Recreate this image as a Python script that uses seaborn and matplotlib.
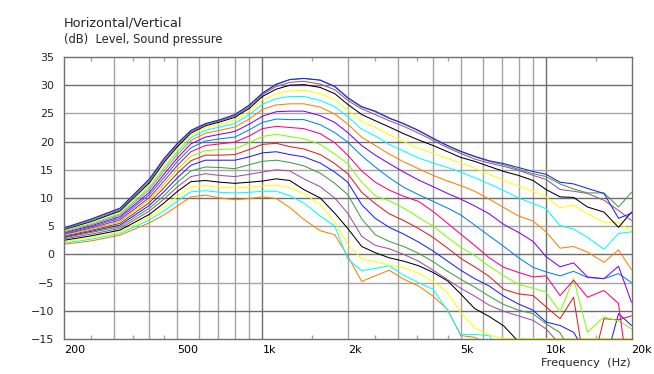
import matplotlib
matplotlib.use("Agg")
import matplotlib.pyplot as plt
import seaborn as sns
import pandas as pd

# frequency grid (Hz)
freq = [200, 250, 315, 400, 450, 500, 560, 630, 710, 800, 900, 1000, 1120, 1250, 1400, 1600, 1800,
        2000, 2240, 2500, 2800, 3150, 3550, 4000, 4500, 5000, 5600, 6300, 7100, 8000, 9000, 10000,
        11200, 12500, 14000, 16000, 18000, 20000]

# sound pressure level (dB) per off-axis angle
deg_00 = [4.7, 6.3, 8.2, 13.4, 17.0, 19.6, 22.0, 23.2, 23.9, 24.8, 26.5, 28.6, 30.2, 31.0, 31.2, 30.9, 29.8,
          27.8, 26.2, 25.4, 24.2, 23.2, 22.0, 20.6, 19.3, 18.3, 17.4, 16.6, 16.1, 15.4, 14.7, 14.2, 12.8, 12.5, 11.7, 10.8, 6.4, 7.3]
deg_05 = [4.6, 6.2, 8.1, 13.2, 16.9, 19.5, 21.9, 23.1, 23.8, 24.7, 26.4, 28.5, 30.1, 31.0, 31.2, 30.9, 29.7,
          27.7, 26.1, 25.3, 24.1, 23.1, 21.9, 20.5, 19.2, 18.2, 17.3, 16.5, 15.9, 15.1, 14.3, 13.8, 12.5, 11.6, 10.9, 10.9, 8.4, 11.0]
deg_10 = [4.5, 6.0, 7.9, 13.0, 16.6, 19.3, 21.7, 23.0, 23.7, 24.5, 26.2, 28.3, 29.8, 30.5, 30.7, 30.2, 29.2,
          27.3, 25.8, 24.8, 23.7, 22.7, 21.5, 20.2, 18.9, 17.9, 16.9, 16.2, 15.6, 14.9, 14.0, 13.3, 11.5, 11.2, 10.8, 9.6, 7.8, 6.0]
deg_15 = [4.4, 5.85, 7.7, 12.7, 16.3, 19.0, 21.5, 22.8, 23.5, 24.3, 25.9, 28.0, 29.3, 30.0, 30.1, 29.6, 28.5,
          26.6, 24.8, 23.7, 22.6, 21.4, 20.3, 19.3, 18.2, 17.2, 16.5, 15.6, 14.7, 14.0, 13.1, 11.5, 10.2, 10.1, 8.4, 7.5, 4.8, 7.5]
deg_20 = [4.3, 5.7, 7.5, 12.3, 15.8, 18.6, 21.1, 22.5, 23.1, 23.8, 25.4, 27.4, 28.5, 29.0, 29.1, 28.5, 27.4,
          25.6, 23.6, 22.5, 21.2, 20.0, 18.8, 17.9, 17.0, 16.2, 15.3, 14.2, 13.1, 12.1, 11.2, 10.2, 8.3, 8.7, 7.2, 5.7, 5.6, 4.1]
deg_25 = [4.15, 5.5, 7.2, 11.9, 15.3, 18.1, 20.7, 22.0, 22.6, 23.2, 24.8, 26.6, 27.6, 28.0, 28.0, 27.3, 26.2,
          24.4, 22.2, 21.0, 19.5, 18.3, 17.1, 16.2, 15.4, 14.6, 13.6, 12.5, 11.3, 10.0, 9.0, 8.1, 5.1, 4.5, 3.0, 0.9, 3.7, 4.0]
deg_30 = [4.0, 5.3, 7.0, 11.5, 14.8, 17.6, 20.2, 21.5, 22.0, 22.6, 24.0, 25.7, 26.5, 26.7, 26.7, 26.1, 24.9,
          23.1, 20.8, 19.3, 17.8, 16.4, 15.2, 14.0, 13.0, 12.2, 11.2, 9.8, 8.3, 6.8, 5.9, 4.0, 1.1, 1.4, 0.4, -1.4, 0.8, -2.7]
deg_35 = [3.85, 5.1, 6.7, 11.0, 14.2, 17.0, 19.6, 20.8, 21.3, 21.8, 23.1, 24.5, 25.3, 25.4, 25.4, 24.6, 23.4,
          21.6, 19.3, 17.6, 16.1, 14.6, 13.2, 12.0, 10.8, 9.8, 8.6, 7.2, 5.3, 3.9, 2.3, -0.4, -2.2, -1.5, -4.0, -4.3, -2.1, -8.5]
deg_40 = [3.7, 4.9, 6.4, 10.6, 13.6, 16.4, 18.9, 20.1, 20.5, 20.8, 22.1, 23.4, 24.0, 23.9, 23.9, 23.0, 21.6,
          19.9, 17.5, 15.5, 13.6, 11.9, 10.6, 9.4, 8.2, 7.0, 5.2, 3.3, 1.4, -0.6, -2.3, -3.1, -3.8, -3.0, -4.1, -4.3, -3.4, -5.0]
deg_45 = [3.55, 4.7, 6.1, 10.1, 13.0, 15.7, 18.2, 19.3, 19.6, 19.9, 21.0, 22.3, 22.7, 22.5, 22.3, 21.4, 19.8,
          17.6, 14.8, 12.8, 11.4, 10.3, 9.4, 7.6, 5.5, 3.6, 1.6, -0.6, -2.3, -3.2, -4.0, -3.8, -7.3, -4.6, -7.6, -6.4, -8.7, -26.0]
deg_50 = [3.4, 4.5, 5.8, 9.7, 12.4, 15.0, 17.4, 18.4, 18.6, 18.7, 19.8, 20.9, 21.3, 20.9, 20.5, 19.5, 17.8,
          16.1, 12.8, 10.4, 9.5, 8.2, 6.6, 5.0, 3.0, 1.3, -0.2, -2.1, -3.8, -5.3, -6.0, -6.7, -10.2, -4.3, -13.8, -11.1, -11.8, -13.2]
deg_55 = [3.25, 4.3, 5.5, 9.2, 11.8, 14.3, 16.6, 17.6, 17.6, 17.7, 18.6, 19.5, 19.7, 19.1, 18.7, 17.7, 16.1,
          14.3, 11.0, 9.0, 7.2, 6.0, 4.6, 3.0, 1.1, -0.7, -2.2, -3.9, -6.2, -7.0, -7.3, -9.3, -11.4, -7.6, -23.0, -11.4, -11.6, -10.9]
deg_60 = [3.1, 4.1, 5.2, 8.7, 11.1, 13.5, 15.8, 16.7, 16.7, 16.7, 17.3, 18.0, 18.2, 17.7, 17.3, 16.2, 14.6,
          12.8, 8.8, 6.4, 4.8, 3.6, 2.2, 0.6, -1.2, -2.8, -4.3, -5.6, -7.4, -8.8, -9.9, -12.0, -12.6, -13.8, -18.0, -20.0, -10.5, -12.6]
deg_65 = [2.95, 3.9, 4.9, 8.2, 10.4, 12.7, 14.8, 15.5, 15.4, 15.2, 15.9, 16.5, 16.7, 16.3, 15.7, 14.4, 12.6,
          10.6, 6.3, 3.5, 2.3, 1.4, 0.2, -1.3, -3.0, -4.4, -5.8, -7.4, -8.9, -9.9, -10.5, -12.3, -13.9, -18.0, -22.0, -24.0, -24.0, -24.0]
deg_70 = [2.75, 3.6, 4.6, 7.7, 9.8, 11.9, 13.8, 14.3, 14.0, 13.8, 14.2, 14.6, 15.0, 14.8, 13.4, 12.0, 10.0,
          7.3, 3.2, 1.6, 1.0, 0.0, -1.2, -2.8, -4.5, -6.0, -7.4, -9.0, -10.1, -10.9, -11.7, -13.2, -16.0, -20.0, -22.0, -24.0, -24.0, -24.0]
deg_75 = [2.5, 3.3, 4.3, 7.1, 9.1, 11.1, 12.9, 13.1, 12.8, 12.6, 12.8, 13.0, 13.4, 13.1, 11.5, 10.0, 7.3,
          4.6, 1.4, 0.3, -0.6, -1.2, -2.0, -3.2, -4.7, -7.0, -9.6, -11.0, -12.7, -15.5, -18.0, -20.0, -22.0, -24.0, -24.0, -24.0, -24.0, -24.0]
deg_80 = [2.25, 3.0, 4.0, 6.6, 8.4, 10.2, 12.0, 12.2, 11.9, 11.8, 11.9, 12.1, 12.3, 11.8, 10.8, 8.8, 5.7,
          1.8, -0.8, -1.3, -1.9, -2.4, -3.3, -4.8, -6.8, -10.3, -13.0, -14.3, -14.9, -14.9, -14.9, -14.9, -14.9, -14.9, -14.9, -14.9, -14.9, -14.9]
deg_85 = [2.0, 2.7, 3.7, 6.1, 7.7, 9.4, 11.1, 11.3, 11.0, 10.9, 11.0, 11.2, 11.2, 10.4, 9.1, 6.8, 5.0,
          -0.8, -2.9, -2.5, -2.0, -3.7, -5.0, -6.2, -10.0, -14.2, -14.2, -14.4, -18.0, -22.0, -24.0, -24.0, -24.0, -24.0, -24.0, -24.0, -24.0, -24.0]
deg_90 = [1.8, 2.4, 3.4, 5.6, 7.0, 8.5, 10.2, 10.5, 10.0, 9.7, 9.9, 10.2, 9.9, 8.3, 6.2, 4.2, 3.5,
          -0.3, -4.8, -3.8, -2.8, -4.4, -5.6, -7.4, -9.8, -14.4, -14.7, -16.0, -20.0, -24.0, -24.0, -24.0, -24.0, -24.0, -24.0, -24.0, -24.0, -24.0]

angles = [0, 5, 10, 15, 20, 25, 30, 35, 40, 45, 50, 55, 60, 65, 70, 75, 80, 85, 90]
curves = [deg_00, deg_05, deg_10, deg_15, deg_20, deg_25, deg_30, deg_35, deg_40, deg_45,
          deg_50, deg_55, deg_60, deg_65, deg_70, deg_75, deg_80, deg_85, deg_90]
colors = ["#2020ff", "#40a040", "#a050a0", "#000000", "#ffff00", "#00ffff", "#ff8000", "#8000ff",
          "#0080ff", "#ff0080", "#80ff00", "#e02020", "#2020ff", "#40a040", "#a050a0", "#000000",
          "#ffff00", "#00ffff", "#ff8000"]

rows = []
for a, vals in zip(angles, curves):
    for f, v in zip(freq, vals):
        rows.append((f, v, a))
df = pd.DataFrame(rows, columns=["freq", "spl", "angle"])

sns.set_style("white")
plt.rcParams["font.family"] = ["DejaVu Sans"]

W, H = 654, 374
fig = plt.figure(figsize=(W / 100, H / 100), dpi=100)
x0, x1, y0, y1 = 64, 631.5, 57, 339
ax = fig.add_axes([x0 / W, 1 - y1 / H, (x1 - x0) / W, (y1 - y0) / H])

# grid
major_col, minor_col = "#6e6e6e", "#a4a4a4"
vgrid = [300, 400, 500, 600, 700, 800, 900, 1000, 2000, 3000, 4000, 5000, 6000, 7000, 8000, 9000, 10000]
for f in vgrid:
    ax.axvline(f, color=major_col if f in (1000, 10000) else minor_col, lw=1, zorder=0)
for y in range(-10, 35, 5):
    ax.axhline(y, color=major_col if y % 10 == 0 else minor_col, lw=1, zorder=0)

sns.lineplot(data=df, x="freq", y="spl", hue="angle", hue_order=angles[::-1],
             palette=dict(zip(angles, colors)), estimator=None, legend=False,
             lw=0.75, ax=ax)

ax.set_xscale("log")
ax.set_xlim(200, 20000)
ax.set_ylim(-15, 35)
ax.set_xlabel("")
ax.set_ylabel("")

xt = [200, 500, 1000, 2000, 5000, 10000, 20000]
ax.set_xticks(xt)
ax.set_xticklabels(["200", "500", "1k", "2k", "5k", "10k", "20k"], ha="left")
ax.set_xticks([250, 350, 450, 1500, 2500, 3500, 4500, 15000], minor=True)
ax.set_xticklabels([], minor=True)
ax.set_yticks(range(-15, 36, 5))
ax.tick_params(axis="x", which="major", length=0, pad=4, labelsize=8, colors="#000000")
ax.tick_params(axis="x", which="minor", direction="in", length=3, top=True, bottom=True,
               color=minor_col, width=1)
ax.tick_params(axis="y", length=0, pad=7, labelsize=8)
for s in ax.spines.values():
    s.set_color(major_col)
    s.set_linewidth(1)

fig.text(64 / W, 1 - 26 / H, "Horizontal/Vertical", fontsize=9.3, va="baseline", ha="left")
fig.text(64 / W, 1 - 42.5 / H, "(dB)  Level, Sound pressure", fontsize=8.3, va="baseline", ha="left")
fig.text(631 / W, 1 - 366 / H, "Frequency  (Hz)", fontsize=8.2, va="baseline", ha="right")

fig.savefig("out.png", dpi=100)
